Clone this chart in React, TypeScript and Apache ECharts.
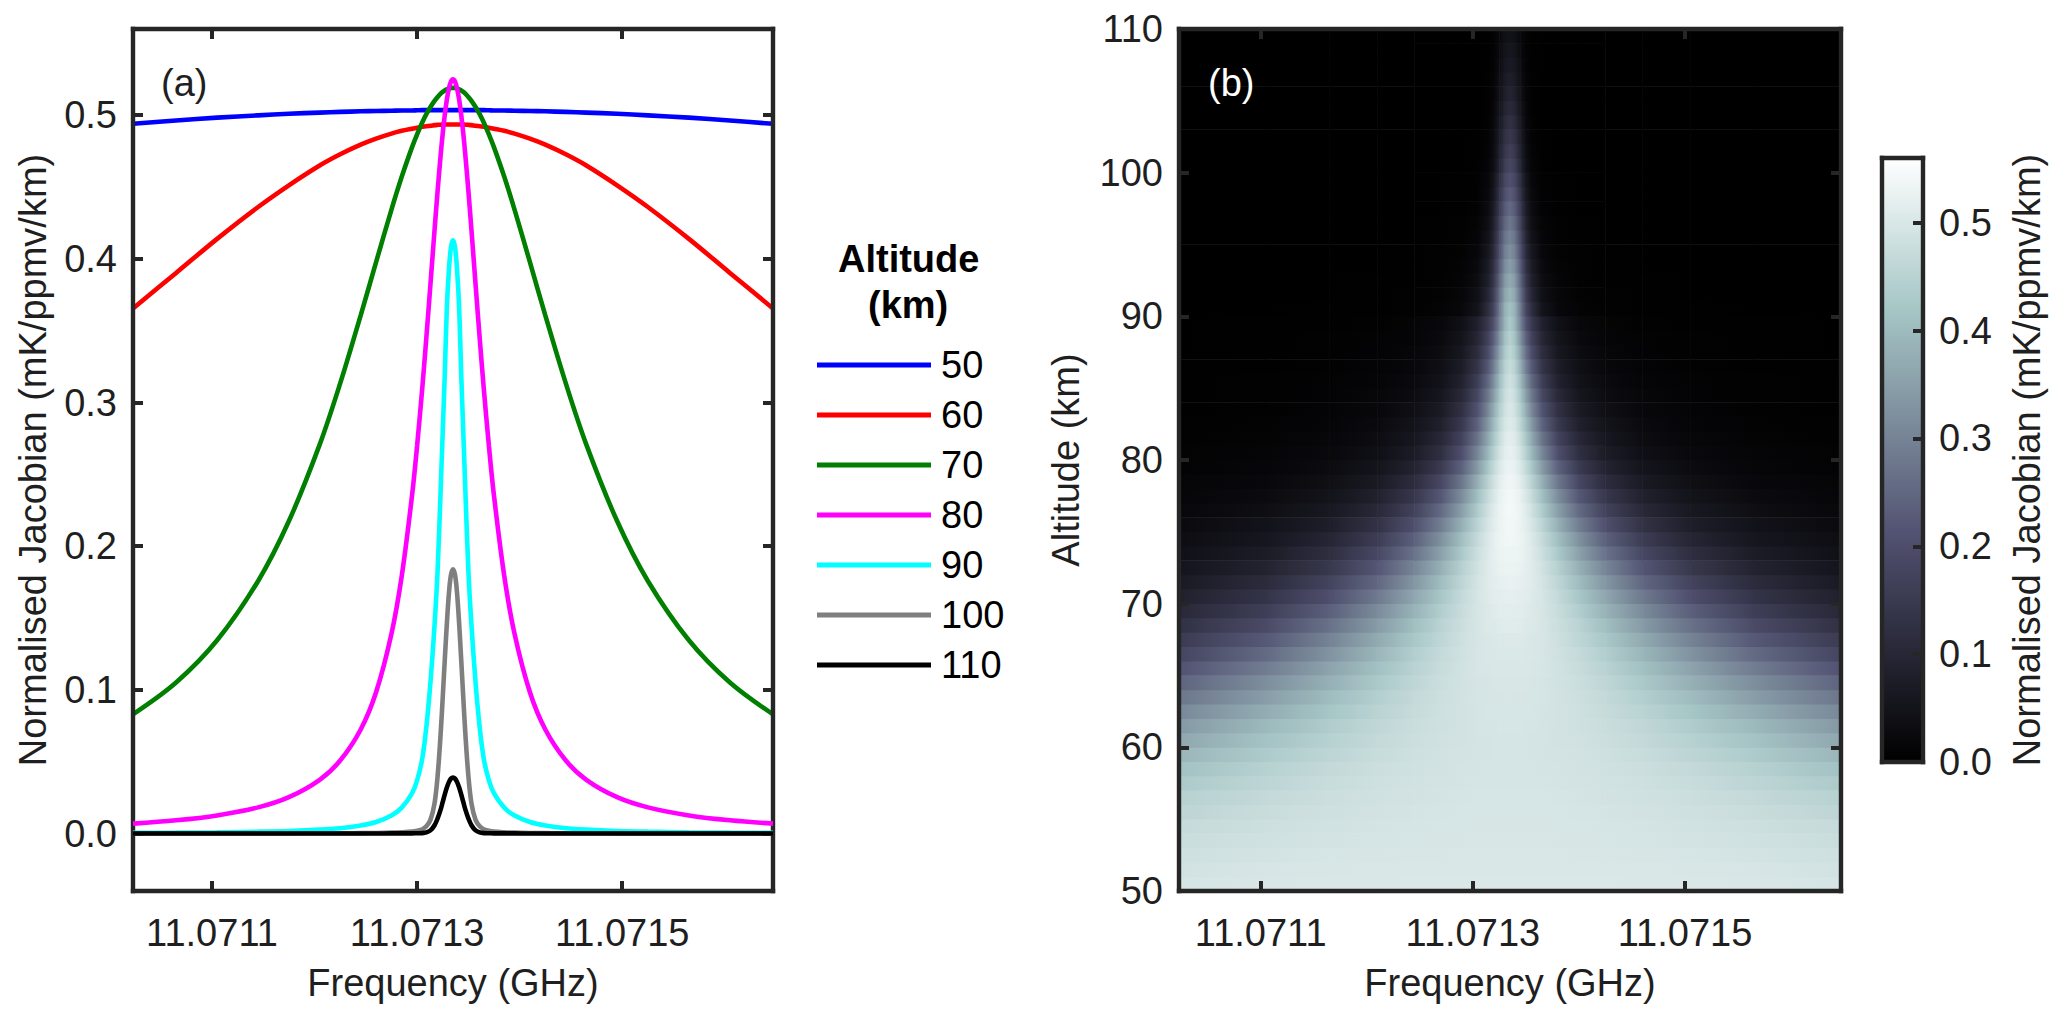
import React, { useEffect, useRef } from "react";
import * as echarts from "echarts";

const FONT = '"Liberation Sans", Arial, sans-serif';
const INK = "#262626";
const TEXT = "#1f1f1f";
const FS = 38;

// Frequency axis
const lineCentreGHz = 11.071335;
const freqMin = 11.071023;
const freqMax = 11.071647;
const freqTicks = [11.0711, 11.0713, 11.0715];

// Panel (a): half-profile offsets from the line centre in kHz, mirrored around the centre
const offsetsKHz = [0, 2, 4, 6, 8, 10, 12, 15, 18, 22, 26, 30, 35, 40, 50, 60, 75, 90, 110, 130, 160, 190, 230, 270, 312];
const km50 = [0.5035, 0.5035, 0.5035, 0.5035, 0.5035, 0.5035, 0.5035, 0.5035, 0.5035, 0.5035, 0.5035, 0.5035, 0.5034, 0.5033, 0.5033, 0.5031, 0.5029, 0.5027, 0.5023, 0.5018, 0.501, 0.4999, 0.4983, 0.4963, 0.494];
const km60 = [0.4935, 0.4935, 0.4935, 0.4935, 0.4935, 0.4935, 0.4934, 0.4933, 0.4931, 0.4926, 0.4923, 0.4919, 0.4913, 0.4906, 0.4891, 0.4872, 0.4837, 0.4795, 0.4728, 0.465, 0.4512, 0.4361, 0.4139, 0.3902, 0.3655];
const km70 = [0.519, 0.5189, 0.5186, 0.518, 0.5172, 0.5162, 0.515, 0.5127, 0.51, 0.5057, 0.5007, 0.4949, 0.4867, 0.4776, 0.4571, 0.4343, 0.3977, 0.3607, 0.3133, 0.2707, 0.2175, 0.1758, 0.1345, 0.1051, 0.083];
const km80 = [0.525, 0.5234, 0.5186, 0.5108, 0.5003, 0.4874, 0.4725, 0.4473, 0.42, 0.3822, 0.345, 0.3098, 0.2699, 0.2349, 0.1792, 0.139, 0.0983, 0.0724, 0.0508, 0.0374, 0.0253, 0.0182, 0.0126, 0.0092, 0.0069];
const km90 = [0.413, 0.408, 0.392, 0.366, 0.32, 0.28, 0.24, 0.183, 0.145, 0.105, 0.074, 0.052, 0.037, 0.028, 0.018, 0.0125, 0.008, 0.0056, 0.0037, 0.0027, 0.0018, 0.0013, 0.0009, 0.0006, 0.0005];
const km100 = [0.184, 0.18, 0.167, 0.146, 0.121, 0.095, 0.07, 0.04, 0.021, 0.0095, 0.005, 0.003, 0.002, 0.0014, 0.0009, 0.0006, 0.0004, 0.0003, 0.0002, 0.0002, 0.0001, 0.0001, 0.0001, 0.0001, 0.0001];
const km110 = [0.039, 0.0382, 0.0358, 0.032, 0.0272, 0.022, 0.0168, 0.0105, 0.0058, 0.0022, 0.0008, 0.0003, 0.0002, 0.0001, 0.0001, 0.0001, 0, 0, 0, 0, 0, 0, 0, 0, 0];
const altitudeNames = ["50", "60", "70", "80", "90", "100", "110"];
const lineColors = ["#0000ff", "#ff0000", "#007f00", "#ff00ff", "#00ffff", "#7f7f7f", "#000000"];
const lineValues = [km50, km60, km70, km80, km90, km100, km110];
const jacobianTicks = [0, 0.1, 0.2, 0.3, 0.4, 0.5];

// Panel (b): half-profile nodes (kHz from the centre) and one row per km of altitude, in 1/1000 mK/ppmv/km
const heatOffsetsKHz = [0, 5, 10, 15, 20, 30, 45, 65, 90, 125, 170, 230, 312];
const altitudeTicks = [50, 60, 70, 80, 90, 100, 110];
const heatRows = [
  [504, 504, 504, 504, 504, 504, 504, 504, 503, 502, 501, 499, 494],
  [502, 502, 502, 502, 502, 502, 502, 501, 501, 500, 498, 495, 489],
  [500, 500, 500, 500, 500, 500, 500, 499, 499, 497, 495, 491, 483],
  [498, 498, 498, 498, 498, 498, 497, 497, 496, 494, 491, 486, 476],
  [497, 497, 497, 497, 497, 497, 496, 496, 494, 492, 488, 481, 468],
  [496, 496, 496, 496, 496, 496, 495, 494, 493, 490, 484, 475, 458],
  [495, 495, 495, 495, 495, 495, 494, 493, 490, 486, 479, 467, 446],
  [494, 494, 494, 494, 494, 494, 493, 491, 488, 483, 474, 458, 431],
  [494, 494, 494, 494, 494, 493, 492, 490, 486, 479, 467, 446, 413],
  [494, 494, 494, 494, 493, 493, 491, 488, 483, 474, 458, 432, 391],
  [494, 494, 494, 494, 493, 492, 490, 487, 480, 467, 447, 414, 365],
  [495, 495, 495, 494, 494, 493, 490, 485, 477, 461, 435, 396, 339],
  [496, 496, 496, 495, 495, 493, 490, 483, 472, 452, 420, 373, 309],
  [498, 497, 497, 497, 496, 494, 489, 481, 467, 441, 402, 347, 277],
  [499, 499, 498, 498, 497, 494, 488, 478, 459, 428, 381, 319, 245],
  [502, 501, 501, 500, 499, 495, 488, 473, 450, 411, 357, 288, 212],
  [504, 504, 503, 502, 500, 496, 486, 468, 439, 391, 329, 255, 180],
  [507, 507, 506, 504, 502, 496, 483, 460, 424, 369, 299, 223, 152],
  [511, 511, 509, 507, 505, 497, 480, 451, 407, 342, 267, 191, 126],
  [515, 514, 513, 510, 507, 497, 475, 439, 386, 314, 235, 162, 103],
  [520, 519, 517, 514, 509, 496, 469, 423, 362, 282, 203, 135, 83],
  [525, 524, 521, 517, 511, 494, 459, 404, 334, 250, 173, 111, 67],
  [530, 529, 525, 519, 511, 489, 446, 381, 303, 217, 144, 90, 53],
  [534, 532, 528, 520, 509, 482, 429, 354, 270, 185, 119, 72, 42],
  [538, 536, 530, 520, 506, 472, 409, 324, 237, 156, 97, 58, 33],
  [540, 537, 529, 516, 499, 456, 382, 290, 204, 129, 78, 46, 26],
  [542, 538, 528, 511, 489, 436, 351, 254, 170, 104, 62, 36, 20],
  [540, 535, 522, 501, 475, 413, 319, 220, 143, 85, 49, 28, 16],
  [537, 531, 514, 487, 455, 382, 280, 184, 115, 67, 38, 22, 12],
  [531, 523, 501, 468, 429, 346, 241, 151, 91, 52, 29, 16, 9],
  [525, 515, 487, 447, 401, 310, 205, 123, 72, 40, 23, 13, 7],
  [518, 506, 472, 426, 374, 277, 175, 102, 59, 32, 18, 10, 5],
  [510, 495, 455, 402, 345, 245, 149, 84, 48, 26, 14, 8, 4],
  [503, 485, 438, 377, 316, 216, 126, 69, 39, 21, 11, 6, 3],
  [495, 474, 419, 352, 287, 188, 106, 57, 32, 17, 9, 5, 3],
  [486, 461, 398, 325, 258, 163, 89, 47, 26, 14, 8, 4, 2],
  [475, 445, 375, 297, 230, 140, 74, 39, 21, 11, 6, 3, 2],
  [462, 428, 350, 269, 203, 119, 62, 32, 17, 9, 5, 3, 1],
  [448, 409, 324, 241, 177, 101, 51, 26, 14, 8, 4, 2, 1],
  [432, 388, 297, 213, 153, 85, 42, 21, 12, 6, 3, 2, 1],
  [413, 380, 280, 183, 125, 52, 22, 10, 6, 3, 2, 1, 1],
  [393, 358, 262, 165, 105, 42, 17, 8, 4, 2, 1, 1, 0],
  [372, 337, 243, 148, 88, 34, 13, 6, 3, 2, 1, 1, 0],
  [349, 314, 222, 131, 74, 27, 10, 5, 2, 1, 1, 0, 0],
  [325, 291, 202, 115, 61, 21, 8, 4, 2, 1, 0, 0, 0],
  [302, 269, 184, 100, 50, 16, 6, 3, 1, 1, 0, 0, 0],
  [280, 248, 166, 87, 41, 12, 4, 2, 1, 0, 0, 0, 0],
  [255, 225, 148, 74, 33, 9, 3, 1, 1, 0, 0, 0, 0],
  [230, 203, 130, 63, 26, 6, 2, 1, 0, 0, 0, 0, 0],
  [207, 182, 115, 54, 20, 4, 2, 1, 0, 0, 0, 0, 0],
  [184, 157, 95, 40, 16, 3, 1, 0, 0, 0, 0, 0, 0],
  [164, 140, 83, 34, 13, 2, 1, 0, 0, 0, 0, 0, 0],
  [145, 124, 72, 29, 10, 2, 1, 0, 0, 0, 0, 0, 0],
  [126, 107, 62, 24, 8, 1, 0, 0, 0, 0, 0, 0, 0],
  [108, 92, 52, 20, 6, 1, 0, 0, 0, 0, 0, 0, 0],
  [93, 79, 44, 16, 5, 1, 0, 0, 0, 0, 0, 0, 0],
  [80, 68, 37, 13, 4, 0, 0, 0, 0, 0, 0, 0, 0],
  [68, 58, 31, 11, 3, 0, 0, 0, 0, 0, 0, 0, 0],
  [57, 48, 26, 9, 2, 0, 0, 0, 0, 0, 0, 0, 0],
  [47, 40, 21, 7, 2, 0, 0, 0, 0, 0, 0, 0, 0],
];
const lowestAltitude = 50;

// Colour bar (MATLAB "bone")
const colorMax = 0.56;
const colorbarTicks = [0, 0.1, 0.2, 0.3, 0.4, 0.5];
const bonePositions = [0, 0.375, 0.75, 1];
const boneRGB = [[0, 0, 0], [81, 81, 113], [166, 198, 198], [255, 255, 255]];

function boneColor(value: number) {
  const t = Math.max(0, Math.min(1, value / colorMax));
  let i = 0;
  while (i < bonePositions.length - 2 && t > bonePositions[i + 1]) i++;
  const f = (t - bonePositions[i]) / (bonePositions[i + 1] - bonePositions[i]);
  const c = boneRGB[i].map((a, k) => Math.round(a + (boneRGB[i + 1][k] - a) * f));
  return `rgb(${c[0]},${c[1]},${c[2]})`;
}

const mirrored = (offs: number[], vals: number[]) => {
  const out: number[][] = [];
  for (let i = offs.length - 1; i > 0; i--) out.push([lineCentreGHz - offs[i] * 1e-6, vals[i]]);
  for (let i = 0; i < offs.length; i++) out.push([lineCentreGHz + offs[i] * 1e-6, vals[i]]);
  return out;
};

const heatCells: number[][] = [];
heatRows.forEach((row, r) => {
  const nodes = mirrored(heatOffsetsKHz, row);
  for (let i = 0; i < nodes.length - 1; i++) {
    heatCells.push([nodes[i][0], nodes[i + 1][0], lowestAltitude + r, lowestAltitude + r + 1, nodes[i][1] / 1000, nodes[i + 1][1] / 1000]);
  }
});

const spine = { show: true, onZero: false, lineStyle: { color: INK, width: 4.4, cap: "square" } };
const tickStyle = (values: number[] | null) => ({
  show: values !== null,
  inside: true,
  length: 10,
  lineStyle: { color: INK, width: 4 },
  customValues: values ?? undefined,
});
const labelStyle = (values: number[], fmt: (v: number) => string, margin = 16) => ({
  show: true,
  customValues: values,
  formatter: fmt,
  color: TEXT,
  fontFamily: FONT,
  fontSize: FS,
  margin,
  hideOverlap: false,
  showMinLabel: true,
  showMaxLabel: true,
});
const nameStyle = { color: TEXT, fontFamily: FONT, fontSize: FS };

function xAxes(gridIndex: number, min: number, max: number, ticks: number[] | null, name: string) {
  return [
    {
      type: "value", gridIndex, min, max, position: "bottom", z: 6, scale: true,
      axisLine: spine, axisTick: tickStyle(ticks), splitLine: { show: false },
      axisLabel: ticks ? labelStyle(ticks, (v) => v.toFixed(4), 23) : { show: false },
      name, nameLocation: "middle", nameGap: 73, nameTextStyle: nameStyle,
    },
    {
      type: "value", gridIndex, min, max, position: "top", z: 6, scale: true,
      axisLine: spine, axisTick: tickStyle(ticks), splitLine: { show: false }, axisLabel: { show: false },
    },
  ];
}

function yAxes(gridIndex: number, min: number, max: number, ticks: number[], name: string, fmt: (v: number) => string, nameGap: number) {
  return [
    {
      type: "value", gridIndex, min, max, position: "left", z: 6, scale: true,
      axisLine: spine, axisTick: tickStyle(ticks), splitLine: { show: false },
      axisLabel: labelStyle(ticks, fmt),
      name, nameLocation: "middle", nameGap, nameTextStyle: nameStyle,
    },
    {
      type: "value", gridIndex, min, max, position: "right", z: 6, scale: true,
      axisLine: spine, axisTick: tickStyle(ticks), splitLine: { show: false }, axisLabel: { show: false },
    },
  ];
}

export default function App() {
  const ref = useRef<HTMLDivElement>(null);
  useEffect(() => {
    const chart = echarts.init(ref.current!, null, { renderer: "svg" });
    const lineSeries = altitudeNames.map((name, i) => ({
      type: "line",
      name,
      xAxisIndex: 0,
      yAxisIndex: 0,
      data: mirrored(offsetsKHz, lineValues[i]),
      symbol: "none",
      showSymbol: false,
      smooth: 0.35,
      clip: true,
      z: 3 + i,
      itemStyle: { color: lineColors[i] },
      lineStyle: { color: lineColors[i], width: 4.6 },
    }));
    chart.setOption({
      animation: false,
      backgroundColor: "#ffffff",
      grid: [
        { left: 133, top: 29, width: 640, height: 862 },
        { left: 1179, top: 29, width: 662, height: 862 },
        { left: 1882, top: 158, width: 41, height: 604 },
      ],
      xAxis: [
        ...xAxes(0, freqMin, freqMax, freqTicks, "Frequency (GHz)"),
        ...xAxes(1, freqMin, freqMax, freqTicks, "Frequency (GHz)"),
        ...xAxes(2, 0, 1, null, ""),
      ],
      yAxis: [
        ...yAxes(0, -0.04, colorMax, jacobianTicks, "Normalised Jacobian (mK/ppmv/km)", (v) => v.toFixed(1), 81),
        ...yAxes(1, 50, 110, altitudeTicks, "Altitude (km)", (v) => String(v), 94),
        {
          type: "value", gridIndex: 2, min: 0, max: colorMax, position: "left", z: 6,
          axisLine: spine, axisTick: { show: false }, axisLabel: { show: false }, splitLine: { show: false },
        },
        {
          type: "value", gridIndex: 2, min: 0, max: colorMax, position: "right", z: 6,
          axisLine: spine,
          axisTick: tickStyle(colorbarTicks),
          axisLabel: labelStyle(colorbarTicks, (v) => v.toFixed(1)),
          splitLine: { show: false },
          name: "Normalised Jacobian (mK/ppmv/km)", nameLocation: "middle", nameGap: 85, nameRotate: 90,
          nameTextStyle: nameStyle,
        },
      ],
      legend: {
        show: true,
        data: altitudeNames,
        orient: "vertical",
        left: 812,
        top: 340,
        icon: "rect",
        itemWidth: 114,
        itemHeight: 5,
        itemGap: 10,
        selectedMode: false,
        textStyle: { color: "#000000", fontFamily: FONT, fontSize: FS, lineHeight: 40, padding: [0, 0, 0, 5] },
      },
      graphic: [
        { type: "text", left: 161, top: 64, z: 20, style: { text: "(a)", fill: TEXT, font: `38px ${FONT}` } },
        { type: "text", left: 1208, top: 64, z: 20, style: { text: "(b)", fill: "#ffffff", font: `38px ${FONT}` } },
        { type: "text", left: 838, top: 240, z: 20, style: { text: "Altitude", fill: "#000000", font: `bold 38px ${FONT}` } },
        { type: "text", left: 868, top: 286, z: 20, style: { text: "(km)", fill: "#000000", font: `bold 38px ${FONT}` } },
      ],
      series: [
        ...lineSeries,
        {
          type: "custom",
          xAxisIndex: 2,
          yAxisIndex: 2,
          clip: true,
          z: 2,
          data: heatCells,
          encode: { x: [0, 1], y: [2, 3] },
          silent: true,
          renderItem: (_p: any, api: any) => {
            const a = api.coord([api.value(0), api.value(3)]);
            const b = api.coord([api.value(1), api.value(2)]);
            return {
              type: "rect",
              shape: { x: a[0] - 0.3, y: a[1] - 0.3, width: b[0] - a[0] + 0.6, height: b[1] - a[1] + 0.6 },
              style: {
                fill: new echarts.graphic.LinearGradient(0, 0, 1, 0, [
                  { offset: 0, color: boneColor(api.value(4)) },
                  { offset: 1, color: boneColor(api.value(5)) },
                ]),
              },
            };
          },
        },
        {
          type: "custom",
          xAxisIndex: 4,
          yAxisIndex: 4,
          clip: true,
          z: 2,
          data: [[0, 1, 0, colorMax]],
          encode: { x: [0, 1], y: [2, 3] },
          silent: true,
          renderItem: (_p: any, api: any) => {
            const a = api.coord([api.value(0), api.value(3)]);
            const b = api.coord([api.value(1), api.value(2)]);
            return {
              type: "rect",
              shape: { x: a[0], y: a[1], width: b[0] - a[0], height: b[1] - a[1] },
              style: {
                fill: new echarts.graphic.LinearGradient(
                  0, 1, 0, 0,
                  bonePositions.map((offset) => ({ offset, color: boneColor(offset * colorMax) })),
                ),
              },
            };
          },
        },
      ],
    });
    return () => chart.dispose();
  }, []);
  return <div ref={ref} style={{ position: "fixed", left: 0, top: 0, width: 2067, height: 1022 }} />;
}
